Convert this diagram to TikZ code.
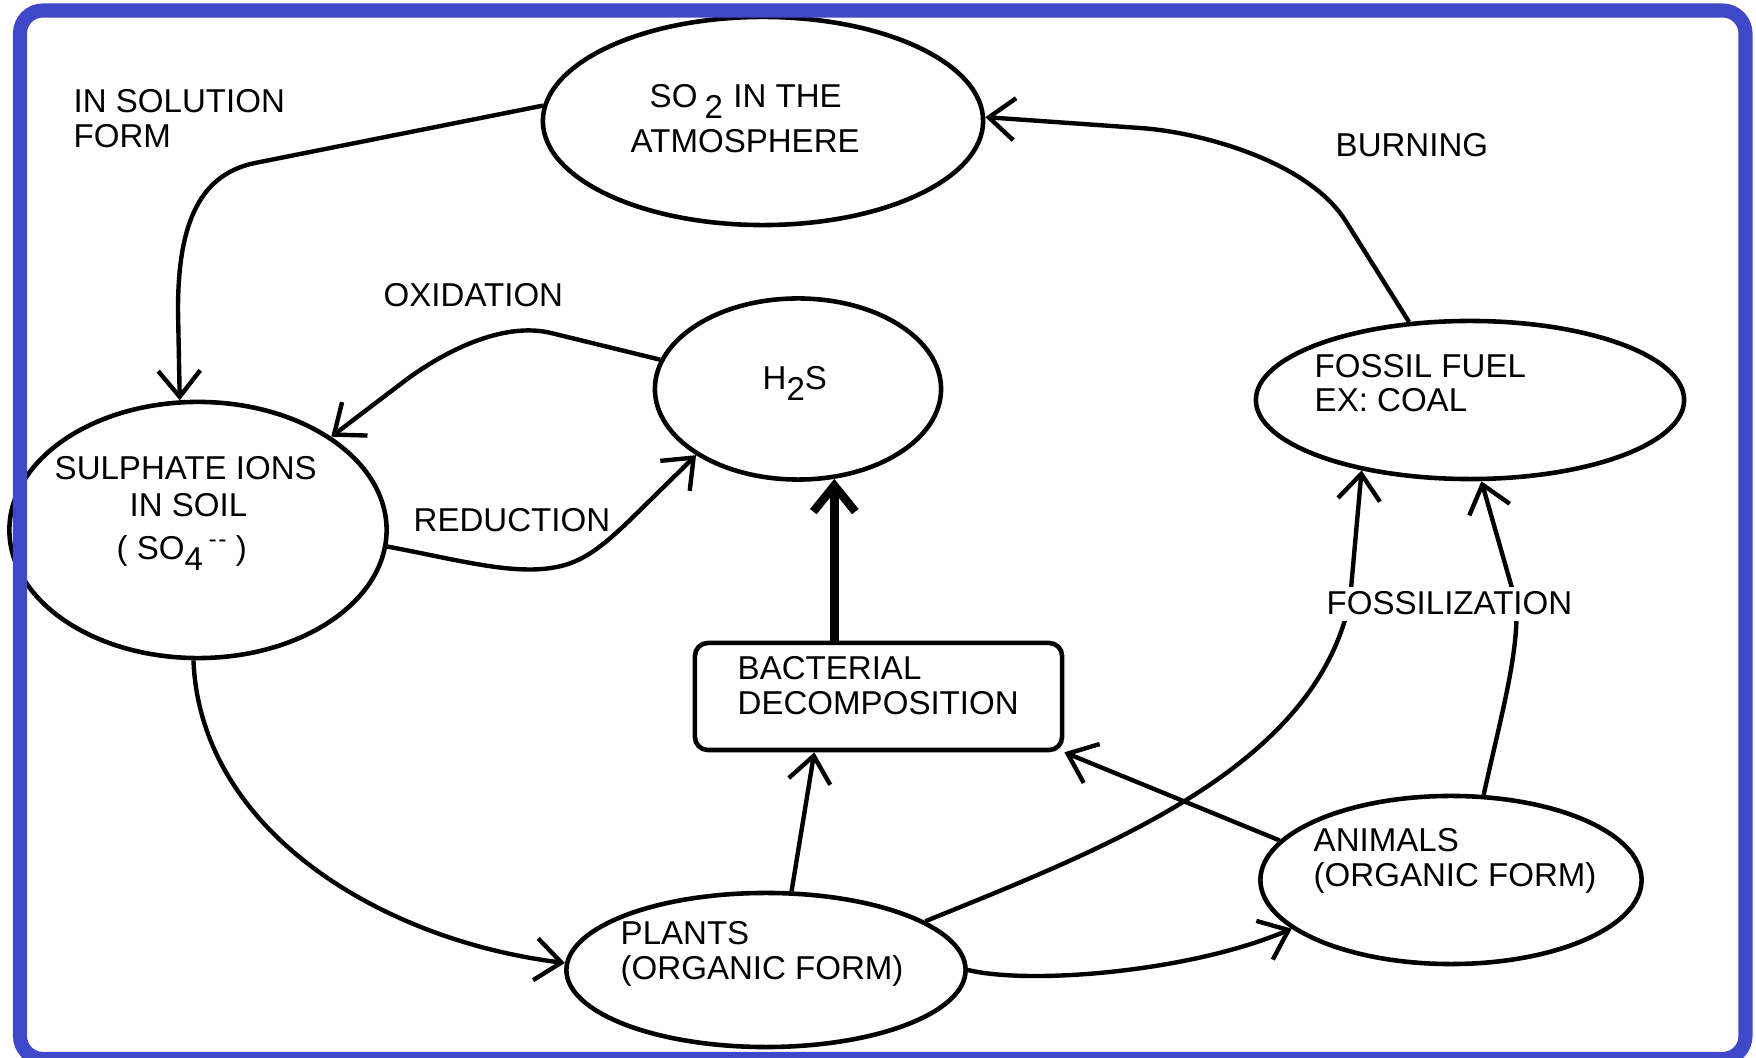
\documentclass[tikz,border=0pt]{standalone}
\usepackage{fontspec}
\setmainfont{Liberation Sans}
\usetikzlibrary{arrows.meta,shapes.geometric}
\definecolor{frameblue}{RGB}{64,72,202}
\newcommand{\dn}[1]{\raisebox{-3pt}{#1}}
\begin{document}
\begin{tikzpicture}[x=0.01cm,y=-0.01cm,
    >={Straight Barb[length=2.6mm,width=4.2mm]},
    blob/.style={draw,ellipse,line width=1.3pt,inner sep=0pt},
    lbl/.style={inner sep=0pt,anchor=base west,font=\fontsize{9.4}{10}\selectfont},
    flow/.style={line width=1.25pt,->}]
  \useasboundingbox (0,0) rectangle (1756,1058);
  % shapes
  \node[blob,minimum width=4.4cm,minimum height=2.08cm](so2) at (763,121){};
  \node[blob,minimum width=2.86cm,minimum height=1.81cm](h2s) at (798,389){};
  \node[blob,minimum width=3.77cm,minimum height=2.56cm](soil) at (198,530){};
  \node[blob,minimum width=4.28cm,minimum height=1.58cm](fuel) at (1470,400){};
  \node[blob,minimum width=3.99cm,minimum height=1.54cm](plants) at (766,970){};
  \node[blob,minimum width=3.81cm,minimum height=1.68cm](animals) at (1451,880){};
  \node[draw,line width=1.3pt,rounded corners=3.7pt,minimum width=3.67cm,minimum height=1.07cm](bact) at (878.5,696.5){};
  % texts
  \node[lbl](t-sol1) at (73,113){IN SOLUTION};
  \node[lbl](t-sol2) at (73,148){FORM};
  \node[lbl](t-so2a) at (649,108){SO\kern2pt\dn{2}\kern3pt IN THE};
  \node[lbl](t-so2b) at (630,153){ATMOSPHERE};
  \node[lbl](t-oxi) at (383,307){OXIDATION};
  \node[lbl](t-red) at (413,532){REDUCTION};
  \node[lbl](t-burn) at (1335,157){BURNING};
  \node[lbl](t-h2s) at (762,390){H\dn{2}S};
  \node[lbl](t-soil1) at (54,480){SULPHATE IONS};
  \node[lbl](t-soil2) at (129,517){IN SOIL};
  \node[lbl](t-soil3) at (116,560){( SO\dn{4}\,\raisebox{3.5pt}{\scriptsize -\kern.5pt-} )};
  \node[lbl](t-fuel1) at (1314,378){FOSSIL FUEL};
  \node[lbl](t-fuel2) at (1314,412){EX: COAL};
  \node[lbl](t-bact1) at (737,680){BACTERIAL};
  \node[lbl](t-bact2) at (737,715){DECOMPOSITION};
  \node[lbl](t-pl1) at (620,945){PLANTS};
  \node[lbl](t-pl2) at (620,980){(ORGANIC FORM)};
  \node[lbl](t-an1) at (1313,852){ANIMALS};
  \node[lbl](t-an2) at (1313,887){(ORGANIC FORM)};
  % arrows
  \draw[flow](so2.176)--(255,163) .. controls (196,175) and (178,230) .. (178,310)--(soil.98);
  \draw[flow](h2s.168)--(551,333) .. controls (502,321) and (441,353) .. (402,383)--(soil.35);
  \draw[flow](soil.-5) .. controls (460,560) and (520,578) .. (565,565) .. controls (589,558) and (608,541) .. (630,520)--(h2s.213);
  \draw[->,line width=2.4pt](h2s.-68 |- bact.north)--(h2s.-68);
  \draw[flow](fuel.128)--(1345,220) .. controls (1307,161) and (1200,132) .. (1140,128)--(so2.1);
  \draw[flow](soil.-92) .. controls (200,830) and (380,940) .. (plants.178);
  \draw[flow](plants.72)--(bact.221);
  \draw[flow](animals.167)--(bact.south east);
  \draw[flow](plants.east) .. controls (1030,985) and (1190,972) .. (animals.197);
  \draw[flow](plants.17) .. controls (1100,850) and (1315,770) .. (1350,600)--(fuel.213);
  \draw[flow](animals.69) .. controls (1500,720) and (1520,650) .. (1516,602)--(fuel.-82);
  \node[lbl,fill=white,inner ysep=1.5pt](t-fossil) at (1326,615){FOSSILIZATION};
  % frame
  \draw[frameblue,line width=4pt,rounded corners=6.5pt](20,10.5) rectangle (1745.5,1059);
\end{tikzpicture}
\end{document}
